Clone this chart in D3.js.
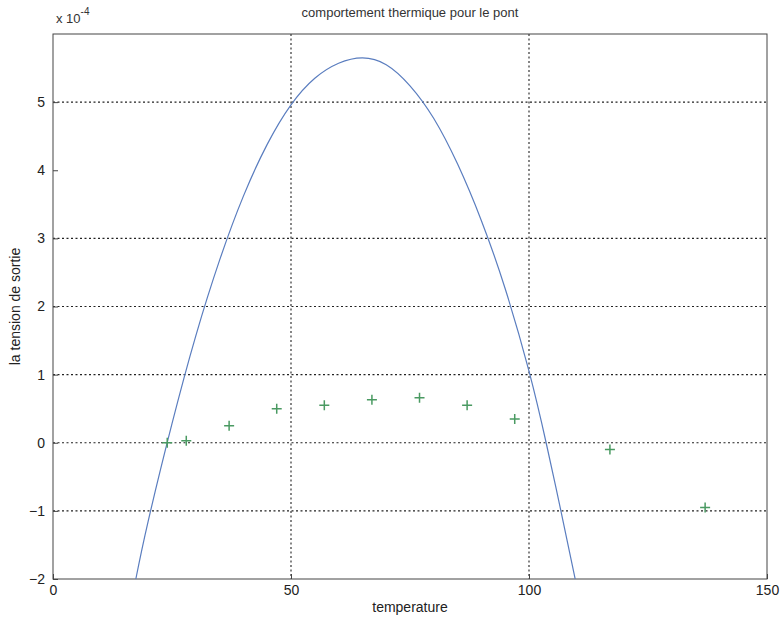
<!DOCTYPE html>
<html>
<head>
<meta charset="utf-8">
<script src="https://cdn.jsdelivr.net/npm/d3@7"></script>
<style>
  body { margin: 0; background: #fff; }
  svg { display: block; font-family: "Liberation Sans", Arial, sans-serif; }
</style>
</head>
<body>
<svg id="chart" width="781" height="625"></svg>
<script>
// fitted curve (temperature, tension x 1e-4)
const curveTemp = [17.4, 20, 25, 30, 35, 40, 45, 50, 55, 60, 65, 70, 75, 80, 85, 90, 95, 100, 103.6, 106.7, 109.7]
const curveVal = [-2, -1.15, 0.28, 1.57, 2.68, 3.62, 4.38, 4.96, 5.35, 5.57, 5.65, 5.55, 5.24, 4.76, 4.09, 3.26, 2.26, 1.05, 0, -1, -2]

// measured points
const measTemp = [24, 28, 37, 47, 57, 67, 77, 87, 97, 117, 137]
const measVal = [0.0, 0.03, 0.25, 0.5, 0.55, 0.63, 0.66, 0.55, 0.35, -0.1, -0.95]

const xTicks = [0, 50, 100, 150]
const yTicks = [-2, -1, 0, 1, 2, 3, 4, 5]
const yGrid = [-1, 0, 1, 2, 3, 5]   // the 4 line is missing in the scan

const svg = d3.select('#chart')
const m = {left: 53, top: 34, right: 767, bottom: 579}
const x = d3.scaleLinear().domain([0, 150]).range([m.left, m.right])
const y = d3.scaleLinear().domain([-2, 6]).range([m.bottom, m.top])

// grid
svg.append('g').selectAll('line')
    .data(yGrid)
    .enter().append('line')
    .attr('x1', m.left).attr('x2', m.right)
    .attr('y1', d => y(d)).attr('y2', d => y(d))
    .attr('stroke', '#222').attr('stroke-width', 1.1)
    .attr('stroke-dasharray', '2,2.5')
svg.append('g').selectAll('line')
    .data([50, 100])
    .enter().append('line')
    .attr('x1', d => x(d)).attr('x2', d => x(d))
    .attr('y1', m.top).attr('y2', m.bottom)
    .attr('stroke', '#222').attr('stroke-width', 1.1)
    .attr('stroke-dasharray', '2,2.5')

// frame
svg.append('rect')
    .attr('x', m.left).attr('y', m.top)
    .attr('width', m.right - m.left).attr('height', m.bottom - m.top)
    .attr('fill', 'none').attr('stroke', '#444').attr('stroke-width', 1)

// axes with inward ticks, matlab style
const xAxis = svg.append('g')
    .attr('transform', `translate(0,${m.bottom})`)
    .call(d3.axisBottom(x).tickValues(xTicks).tickSizeInner(-5).tickSizeOuter(0).tickPadding(10))
const yAxis = svg.append('g')
    .attr('transform', `translate(${m.left},0)`)
    .call(d3.axisLeft(y).tickValues(yTicks).tickSizeInner(-5).tickSizeOuter(0).tickPadding(8))
;[xAxis, yAxis].forEach(a => {
    a.select('.domain').remove()
    a.selectAll('line').attr('stroke', '#444')
    a.selectAll('text').attr('font-size', 14).attr('fill', '#222')
        .attr('font-family', '"Liberation Sans", Arial, sans-serif')
})
xAxis.selectAll('text').attr('dy', '0.45em')

// curve
const line = d3.line()
    .x((d, i) => x(curveTemp[i]))
    .y(d => y(d))
    .curve(d3.curveNatural)
svg.append('path')
    .datum(curveVal)
    .attr('d', line)
    .attr('fill', 'none')
    .attr('stroke', '#5a7dbf')
    .attr('stroke-width', 1.2)

// + markers
svg.append('g').selectAll('path')
    .data(measVal)
    .enter().append('path')
    .attr('transform', (d, i) => `translate(${x(measTemp[i])},${y(d)})`)
    .attr('d', 'M-5,0H5M0,-5V5')
    .attr('stroke', '#4a9a62')
    .attr('stroke-width', 1.5)

// texts
svg.append('text')
    .attr('x', 410).attr('y', 17)
    .attr('text-anchor', 'middle')
    .attr('font-size', 13).attr('fill', '#333')
    .text('comportement thermique pour le pont')
const sci = svg.append('text')
    .attr('x', 56).attr('y', 23)
    .attr('font-size', 13).attr('fill', '#333')
sci.append('tspan').text('x 10')
sci.append('tspan').attr('dy', -8).attr('font-size', 10).text('-4')
svg.append('text')
    .attr('x', 410).attr('y', 612)
    .attr('text-anchor', 'middle')
    .attr('font-size', 14).attr('fill', '#222')
    .text('temperature')
svg.append('text')
    .attr('transform', `translate(20,${(m.top + m.bottom) / 2}) rotate(-90)`)
    .attr('text-anchor', 'middle')
    .attr('font-size', 14).attr('fill', '#222')
    .text('la tension de sortie')
</script>
</body>
</html>
